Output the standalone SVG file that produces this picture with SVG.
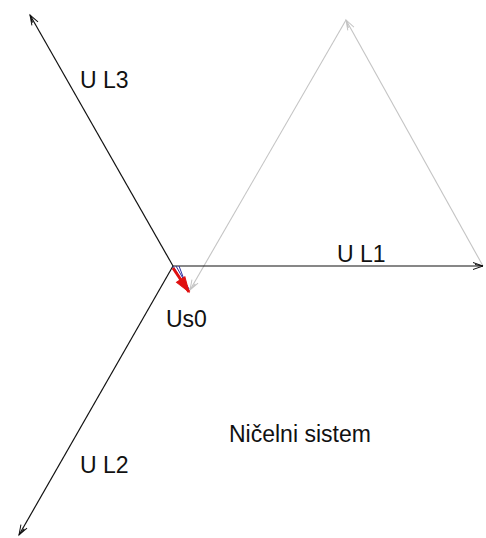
<svg xmlns="http://www.w3.org/2000/svg" width="486" height="538" viewBox="0 0 486 538">
  <defs>
    <style>
      .lbl { font-family: "Liberation Sans", Arial, sans-serif; font-size: 23px; fill: #111; }
      .vk { stroke: #111; stroke-width: 1.2; fill: none; }
      .vg { stroke: #c4c4c4; stroke-width: 1.1; fill: none; }
      .vr { stroke: #e01010; stroke-width: 3; fill: none; }
      .vb { stroke: #3030a0; stroke-width: 1; fill: none; }
    </style>
    <marker id="ak" viewBox="-11 -6 13 12" refX="0" refY="0" markerWidth="13" markerHeight="12" orient="auto" markerUnits="userSpaceOnUse">
      <path d="M-10,-3.5 L0,0 L-10,3.5 M-8,-1.5 L0,0" fill="none" stroke="#111" stroke-width="1"/>
    </marker>
    <marker id="ag" viewBox="-11 -6 13 12" refX="0" refY="0" markerWidth="13" markerHeight="12" orient="auto" markerUnits="userSpaceOnUse">
      <path d="M-10,-3.5 L0,0 L-10,3.5 M-8,-1.5 L0,0" fill="none" stroke="#c4c4c4" stroke-width="1"/>
    </marker>
    <marker id="ar" viewBox="-16 -7 18 14" refX="0" refY="0" markerWidth="18" markerHeight="14" orient="auto" markerUnits="userSpaceOnUse">
      <path d="M-15,-5 L0,0 L-15,5 Z" fill="#e01010" stroke="#e01010" stroke-width="1"/>
    </marker>
  </defs>
  <rect width="486" height="538" fill="#ffffff"/>
  <g id="connectors">
    <line id="sum-l1" class="vg" x1="483" y1="266" x2="346" y2="20" marker-end="url(#ag)"/>
    <line id="sum-l2" class="vg" x1="346" y1="20" x2="190" y2="290" marker-end="url(#ag)"/>
    <line id="ul1" class="vk" x1="173" y1="266" x2="483" y2="266" marker-end="url(#ak)"/>
    <line id="ul3" class="vk" x1="173" y1="266" x2="30" y2="15" marker-end="url(#ak)"/>
    <line id="ul2" class="vk" x1="173" y1="266" x2="19" y2="535" marker-end="url(#ak)"/>
    <g id="small-vectors">
      <line class="vb" x1="173" y1="266" x2="186" y2="288"/>
      <line class="vb" x1="176" y1="266" x2="189" y2="289"/>
      <line class="vb" x1="179" y1="266" x2="188" y2="290"/>
    </g>
    <line id="us0" class="vr" x1="173" y1="268" x2="189" y2="292" marker-end="url(#ar)"/>
  </g>
  <g id="label-ul3"><text class="lbl" x="80" y="88">U L3</text></g>
  <g id="label-ul1"><text class="lbl" x="337" y="262">U L1</text></g>
  <g id="label-ul2"><text class="lbl" x="80" y="473">U L2</text></g>
  <g id="label-us0"><text class="lbl" x="166" y="327">Us0</text></g>
  <g id="label-system"><text class="lbl" x="229" y="442">Ničelni sistem</text></g>
</svg>
